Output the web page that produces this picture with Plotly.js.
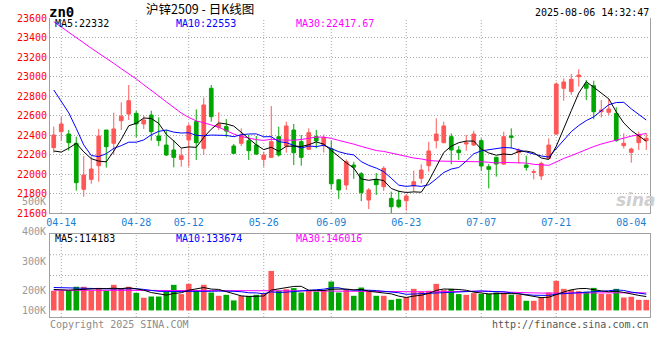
<!DOCTYPE html>
<html>
<head>
<meta charset="utf-8">
<script src="https://cdn.plot.ly/plotly-3.0.1.min.js"></script>
<style>html,body{margin:0;padding:0;background:#fff}</style>
</head>
<body>
<div id="chart" style="width:660px;height:360px"></div>
<script>
// ---- data (沪锌2509 daily K, 2025-04-11 .. 2025-08-06) ----
const dates = ['04-11','04-14','04-15','04-16','04-17','04-18','04-21','04-22','04-23','04-24','04-25','04-28','04-29','04-30',
'05-06','05-07','05-08','05-09','05-12','05-13','05-14','05-15','05-16','05-19','05-20','05-21','05-22','05-23','05-26','05-27','05-28','05-29','05-30',
'06-03','06-04','06-05','06-06','06-09','06-10','06-11','06-12','06-13','06-16','06-17','06-18','06-19','06-20','06-23','06-24','06-25','06-26','06-27','06-30',
'07-01','07-02','07-03','07-04','07-07','07-08','07-09','07-10','07-11','07-14','07-15','07-16','07-17','07-18','07-21','07-22','07-23','07-24','07-25','07-28','07-29','07-30','07-31',
'08-01','08-04','08-05','08-06'];

const openPrice = [22270,22434,22410,22315,21843,21945,22085,22451,22315,22547,
22615,22622,22513,22605,22390,22297,22246,22150,22349,22537,
22263,22879,22479,22486,22287,22315,22342,22297,22150,22171,
22383,22287,22451,22332,22253,22383,22290,22258,21940,21887,
22092,22003,21733,21945,21870,21750,21733,21726,21877,21956,
22085,22342,22321,22383,22246,22308,22297,22342,22075,22171,
22102,22390,22219,22092,22017,21980,22161,22410,22879,22845,
22998,22923,22906,22639,22633,22622,22291,22222,22321,22342];

const highPrice = [22486,22588,22451,22383,22185,22180,22462,22451,22629,22735,
22913,22646,22600,22649,22581,22451,22349,22263,22520,22663,
22783,22913,22633,22564,22308,22468,22400,22390,22229,22697,
22486,22537,22513,22400,22468,22451,22405,22342,21950,22150,
22125,22020,21855,22010,22080,21819,21829,21795,22034,22100,
22330,22571,22537,22417,22287,22400,22445,22366,22102,22178,
22434,22468,22263,22188,22048,22127,22366,22940,22981,23026,
23074,22964,22957,22759,22766,22684,22417,22270,22434,22417];

const lowPrice = [22219,22342,22239,21829,21767,21900,21921,22065,22195,22451,
22554,22376,22460,22342,22287,22185,22068,22075,22075,22144,
22195,22537,22451,22376,22205,22287,22144,22195,22075,22165,
22178,22219,22092,22085,22246,22263,22220,21840,21745,21836,
21950,21722,21640,21785,21826,21590,21648,21624,21819,21904,
22024,22263,22315,22099,22144,22239,22287,22034,21853,21973,
22092,22263,22109,22034,21945,21938,22151,22400,22752,22810,
22896,22759,22561,22581,22605,22332,22263,22116,22246,22246];

const closePrice = [22400,22513,22321,21911,21990,22051,22390,22280,22462,22592,
22752,22513,22554,22434,22342,22195,22171,22188,22493,22321,
22708,22588,22509,22441,22212,22400,22239,22205,22195,22332,
22195,22493,22219,22171,22424,22339,22375,21900,21836,22127,
22070,21809,21836,21890,22058,21665,21665,21774,21921,22041,
22236,22410,22493,22246,22219,22321,22410,22082,22048,22102,
22383,22376,22246,22068,22024,22109,22297,22923,22944,22971,
23015,22879,22639,22656,22667,22342,22315,22256,22400,22366];

const volume = [161000,161000,161000,194000,194000,161000,185000,161000,210000,177000,
194000,144000,104000,114000,114000,153000,210000,134000,218000,166000,
210000,147000,120000,128000,82000,120000,120000,128000,142000,324000,
161000,174000,183000,147000,161000,155000,169000,237000,147000,169000,
120000,188000,164000,120000,120000,87000,95000,109000,177000,155000,
161000,218000,169000,177000,134000,128000,142000,136000,136000,147000,
142000,128000,128000,79000,79000,109000,147000,243000,177000,169000,
158000,153000,185000,136000,134000,177000,106000,112000,87000,87000];

// moving-average values at the start of the window (they need earlier sessions)
const ma5Head  = [22236,22225,22265,22315];
const ma10Head = [22862,22750,22627,22468,22298,22190,22178,22208,22263];
const ma30Head = [23562,23510,23455,23400,23345,23290,23240,23190,23135,23080,
23030,22975,22915,22860,22800,22740,22680,22625,22580,22545,
22525,22500,22480,22445,22410,22385,22365,22352,22345];
const vma5Head  = [172000,168000,166000,170000];
const vma10Head = [188000,186000,184000,183000,181000,179000,178000,177000,176000];
const vma30Head = [166000,166000,165000,165000,165000,164000,164000,164000,163000,163000,
163000,163000,162000,162000,162000,162000,161000,161000,161000,161000,
161000,160000,160000,160000,160000,160000,160000,160000,160000];

// axis labels and legend texts
const tickDates = ['04-14','04-28','05-12','05-26','06-09','06-23','07-07','07-21','08-04'];
const gridDates = ['04-14','04-28','05-12','05-26','06-09','06-23','07-07','07-21'];
const priceLegend = ['MA5:22332','MA10:22553','MA30:22417.67'];
const volLegend = ['MA5:114183','MA10:133674','MA30:146016'];
const volLabels = ['500K','400K','300K','200K','100K'];
const symbolText = 'zn0';
const titleText = '沪锌2509 - 日K线图';
const timeText = '2025-08-06 14:32:47';
const footLeft = 'Copyright 2025 SINA.COM';
const footRight = 'http://finance.sina.com.cn';

// ---- styles ----
const RED = '#ff5757', GREEN = '#00a600';
const MONO = 'DejaVu Sans Mono';
const GRID = '#a8a8a8', FRAME = '#a0a0a0';

function movingAverage(values, n, head) {
  return values.map((v, i) => {
    if (i < n - 1) return head[i];
    let s = 0;
    for (let k = i - n + 1; k <= i; k++) s += values[k];
    return s / n;
  });
}

const ma5 = movingAverage(closePrice, 5, ma5Head);
const ma10 = movingAverage(closePrice, 10, ma10Head);
const ma30 = movingAverage(closePrice, 30, ma30Head);
const vma5 = movingAverage(volume, 5, vma5Head);
const vma10 = movingAverage(volume, 10, vma10Head);
const vma30 = movingAverage(volume, 30, vma30Head);
const volColors = closePrice.map((c, i) => (c >= openPrice[i] ? RED : GREEN));

const line = (y, color, xa, ya) => ({type:'scatter', mode:'lines', x: dates, y: y, xaxis: xa, yaxis: ya,
  line:{color: color, width: 1}, hoverinfo:'skip'});

const traces = [
  {type:'candlestick', x: dates, open: openPrice, high: highPrice, low: lowPrice, close: closePrice,
   xaxis:'x', yaxis:'y', whiskerwidth: 0,
   increasing:{line:{color:RED, width:1}, fillcolor:RED},
   decreasing:{line:{color:GREEN, width:1}, fillcolor:GREEN}, hoverinfo:'skip'},
  line(ma30, '#ff00ff', 'x', 'y'),
  line(ma10, '#0000ff', 'x', 'y'),
  line(ma5, '#000000', 'x', 'y'),
  {type:'bar', x: dates, y: volume, xaxis:'x2', yaxis:'y2', marker:{color: volColors, line:{width:0}}, hoverinfo:'skip'},
  line(vma30, '#ff00ff', 'x2', 'y2'),
  line(vma10, '#0000ff', 'x2', 'y2'),
  line(vma5, '#000000', 'x2', 'y2')
];

// plot area: x 50..650, y 18..317 (299 px)
const py = (px) => (317 - px) / 299;
const px = (x) => (x - 50) / 600;
const MAIN_BOTTOM = py(213), VOL_TOP = py(234);

const shapes = [];
gridDates.forEach(d => {
  shapes.push({type:'line', layer:'below', xref:'x', yref:'paper', x0:d, x1:d, y0:MAIN_BOTTOM, y1:1,
    line:{color:GRID, width:1, dash:'1px,2px'}});
  shapes.push({type:'line', layer:'below', xref:'x', yref:'paper', x0:d, x1:d, y0:0, y1:VOL_TOP,
    line:{color:GRID, width:1, dash:'1px,2px'}});
});
[0.5, 0.75].forEach(f => shapes.push({type:'line', layer:'below', xref:'paper', yref:'y2 domain',
  x0:0, x1:1, y0:f, y1:f, line:{color:GRID, width:1, dash:'1px,2px'}}));

const legendColors = ['#000000', '#0000ff', '#ff00ff'];
const legendX = [54, 175, 295];
const annotations = [];
const plain = {xref:'paper', yref:'paper', showarrow:false, borderpad:0, yanchor:'middle'};
priceLegend.forEach((t, k) => annotations.push(Object.assign({text:t, x:px(legendX[k]), y:py(24),
  xanchor:'left', font:{family:MONO, size:10, color:legendColors[k]}}, plain)));
volLegend.forEach((t, k) => annotations.push(Object.assign({text:t, x:px(legendX[k]), y:py(238.5),
  xanchor:'left', font:{family:MONO, size:10, color:legendColors[k]}}, plain)));
const volLabelY = [201, 231, 261, 290.7, 310];
volLabels.forEach((t, k) => annotations.push(Object.assign({text:t, x:px(47), y:py(volLabelY[k]),
  xanchor:'right', font:{family:MONO, size:10, color:'#999999'}}, plain)));
annotations.push(Object.assign({text:'<b>'+symbolText+'</b>', x:px(48), y:py(12),
  xanchor:'left', font:{family:MONO, size:14, color:'#000'}}, plain));
annotations.push(Object.assign({text:titleText, x:px(200), y:py(8.5),
  xanchor:'center', font:{family:'Noto Sans CJK SC', size:12.5, color:'#000'}}, plain));
annotations.push(Object.assign({text:timeText, x:px(650), y:py(12),
  xanchor:'right', font:{family:MONO, size:10, color:'#000'}}, plain));
annotations.push(Object.assign({text:footLeft, x:px(49), y:py(324),
  xanchor:'left', font:{family:MONO, size:10, color:'#8c8c8c'}}, plain));
annotations.push(Object.assign({text:footRight, x:px(650), y:py(324),
  xanchor:'right', font:{family:MONO, size:10, color:'#555555'}}, plain));
annotations.push(Object.assign({text:'sina', x:px(636), y:py(200),
  xanchor:'center', font:{family:'DejaVu Sans', size:17, color:'#cfcfcf', style:'italic', weight:'bold'}}, plain));

const layout = {
  width:660, height:360,
  margin:{l:50, r:10, t:18, b:43, pad:0},
  paper_bgcolor:'#ffffff', plot_bgcolor:'#ffffff',
  showlegend:false, hovermode:false,
  font:{family:MONO, size:10, color:'#000'},
  boxgap:0.3, bargap:0.25,
  xaxis:{type:'category', domain:[0,1], anchor:'y', range:[-0.5, dates.length - 0.5],
    tickmode:'array', tickvals:tickDates, ticktext:tickDates, ticks:'',
    tickfont:{family:MONO, size:10, color:'#1a7fd4'},
    showgrid:false, zeroline:false, showline:true, linecolor:FRAME, linewidth:1,
    rangeslider:{visible:false}, fixedrange:true},
  yaxis:{domain:[MAIN_BOTTOM, 1], range:[21600, 23600], tick0:21600, dtick:200, ticks:'',
    tickformat:'d', separatethousands:false,
    tickfont:{family:MONO, size:10, color:'#ff0000'},
    showgrid:true, gridcolor:GRID, gridwidth:1, griddash:'1px,2px', zeroline:false,
    showline:true, mirror:true, linecolor:FRAME, linewidth:1, fixedrange:true},
  xaxis2:{type:'category', matches:'x', anchor:'y2', domain:[0,1], showticklabels:false, ticks:'',
    showgrid:false, zeroline:false, showline:true, mirror:true, linecolor:FRAME, linewidth:1,
    rangeslider:{visible:false}, fixedrange:true},
  yaxis2:{domain:[0, VOL_TOP], range:[-54000, 627000], showticklabels:false, ticks:'',
    showgrid:false, zeroline:false, showline:true, mirror:true, linecolor:FRAME, linewidth:1, fixedrange:true},
  shapes: shapes,
  annotations: annotations
};

Plotly.newPlot('chart', traces, layout, {staticPlot:true, displayModeBar:false});
</script>
</body>
</html>
